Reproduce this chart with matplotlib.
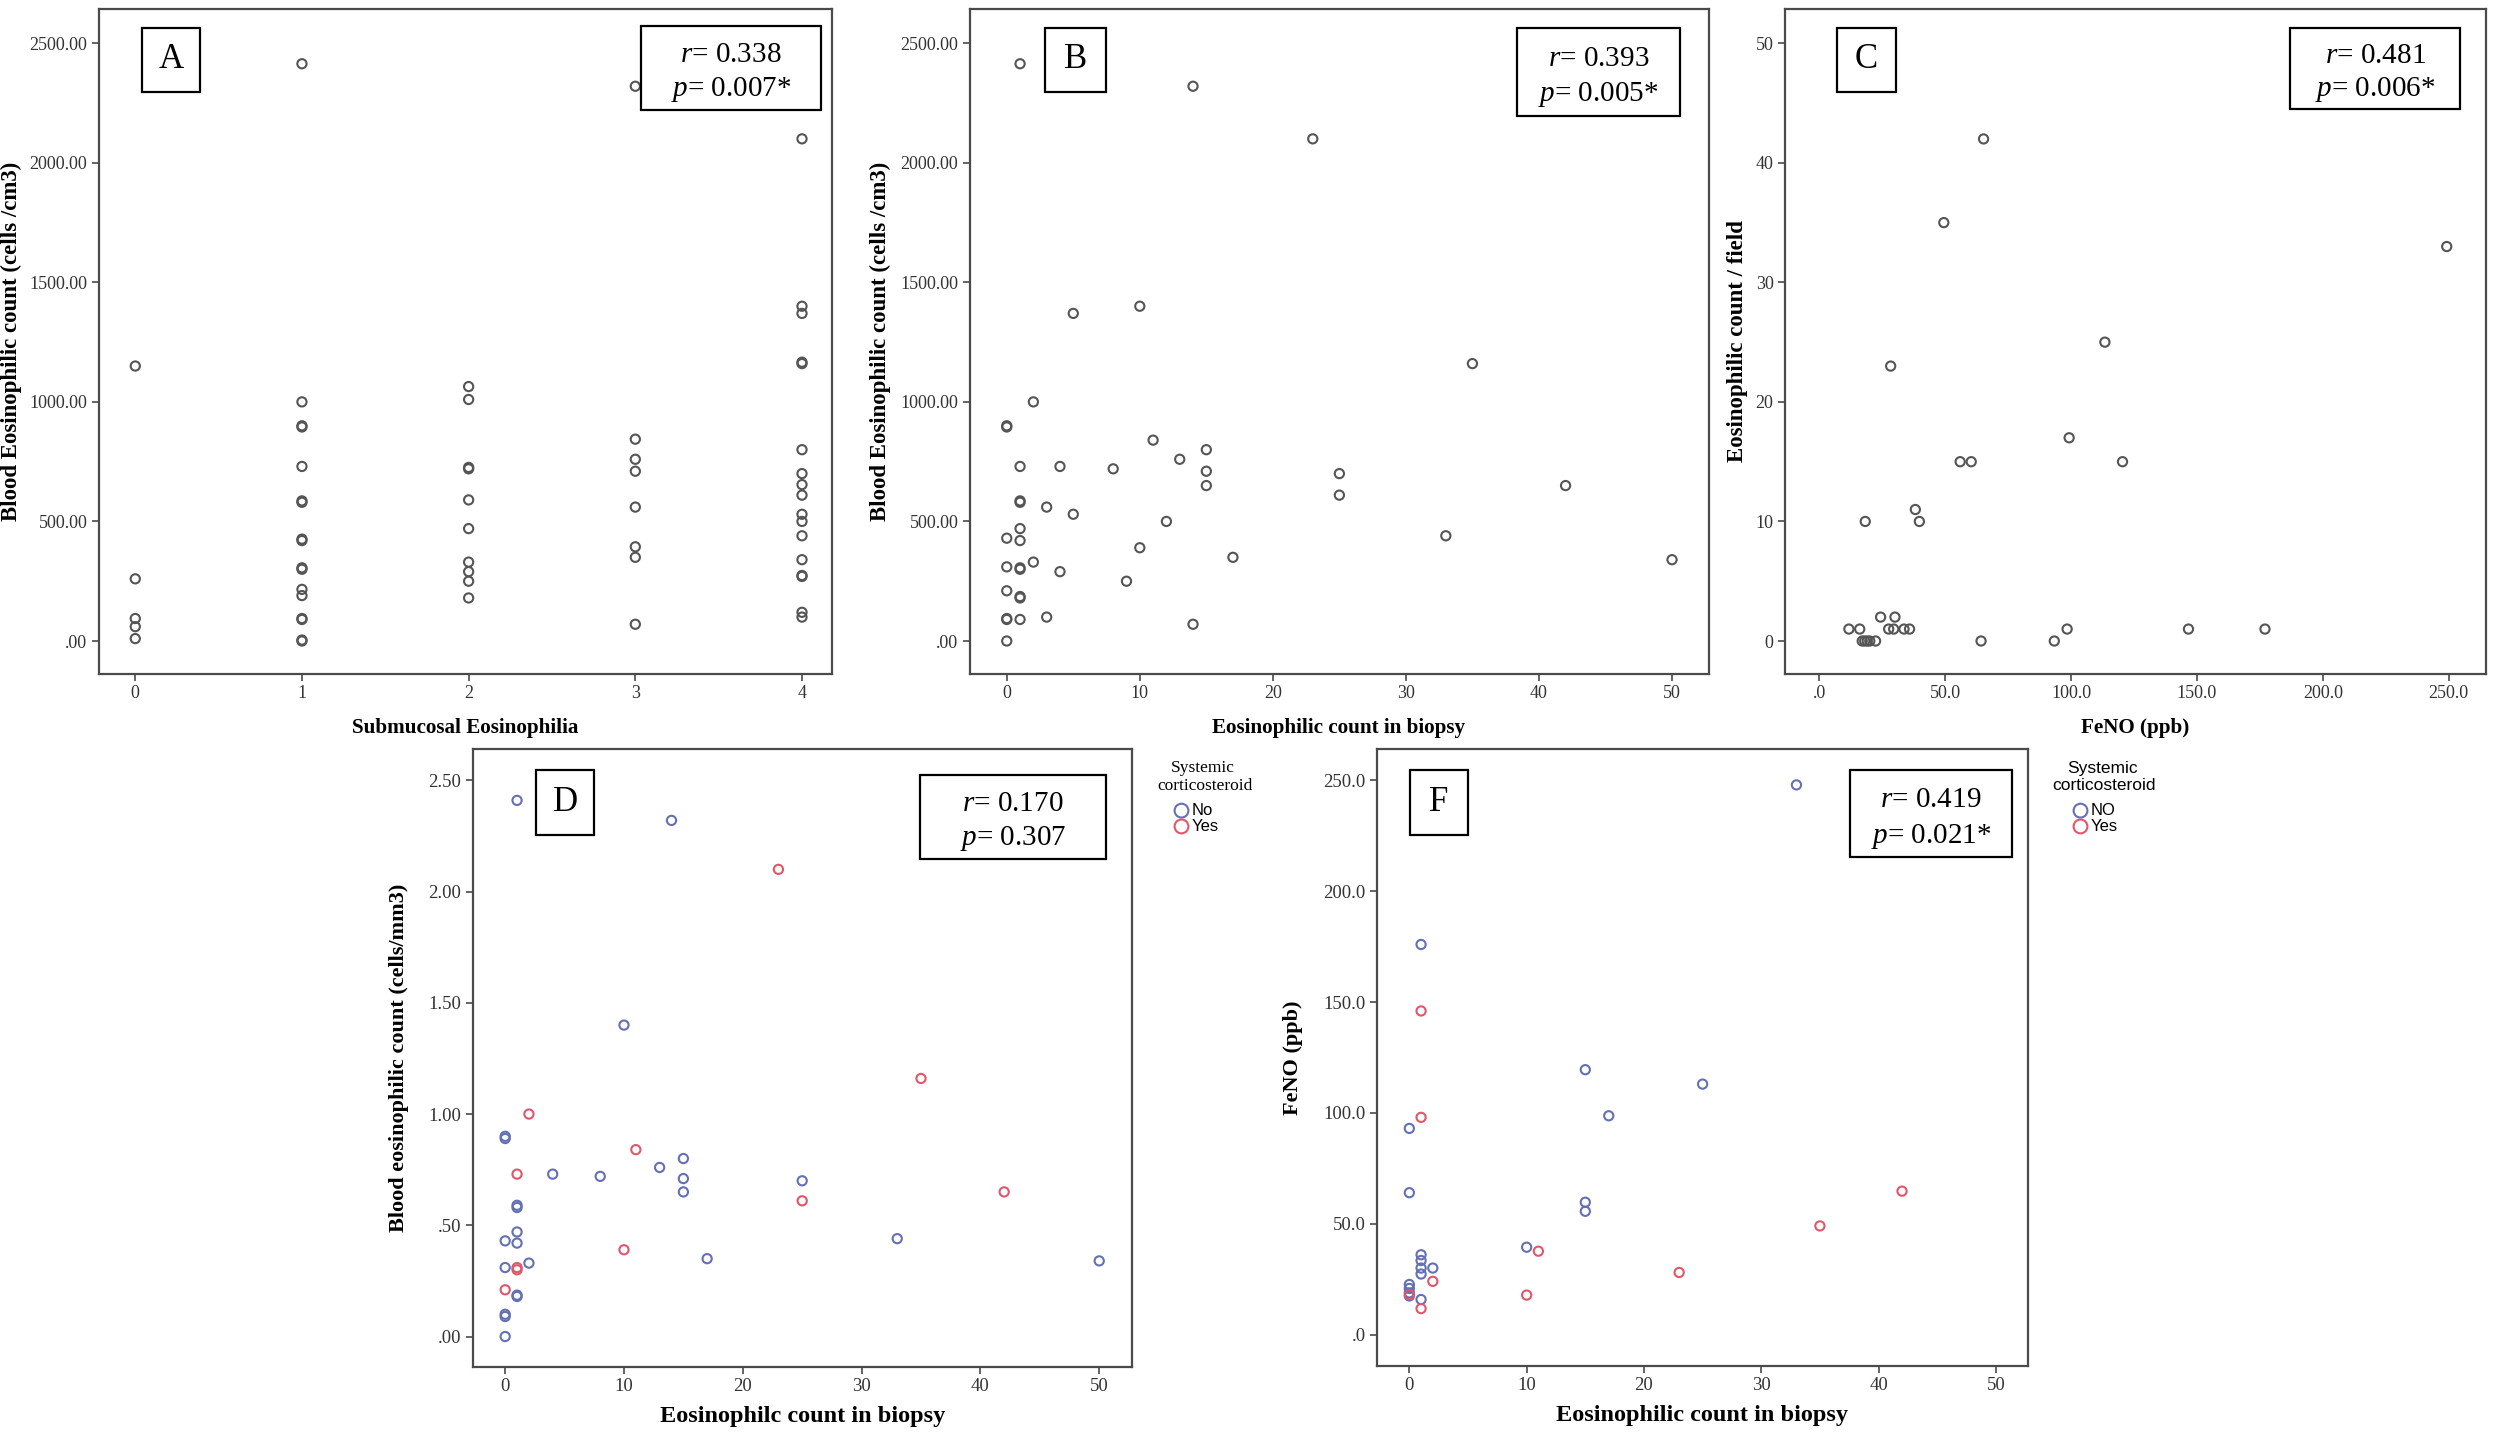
import matplotlib
matplotlib.use('Agg')
import matplotlib.pyplot as plt
from matplotlib.patches import Rectangle

# ---- data ----
# A: blood eosinophils (cells/cm3) per submucosal eosinophilia grade
grades = [0, 1, 2, 3, 4]
a_grade0 = [1150, 260, 94, 60, 10]
a_grade1 = [2414, 1000, 900, 895, 730, 586, 580, 426, 420, 306, 300, 216, 190, 94, 90, 4, 0]
a_grade2 = [1064, 1010, 726, 720, 590, 470, 330, 290, 250, 180]
a_grade3 = [2320, 844, 760, 710, 560, 394, 350, 70]
a_grade4 = [2100, 1400, 1370, 1166, 1160, 800, 700, 654, 610, 530, 500, 440, 340, 274, 270, 120, 100]

# B: biopsy eosinophil count vs blood eosinophils
b_biopsy = [1, 14, 23, 5, 10, 35, 2, 0, 0, 11, 13, 15, 15, 15, 1, 4, 8, 25, 25, 42,
            1, 1, 3, 5, 12, 0, 1, 1, 33, 10, 17, 50, 0, 1, 1, 2, 4, 9, 0, 1, 1,
            0, 0, 1, 3, 14, 0]
b_blood = [2414, 2320, 2100, 1370, 1400, 1160, 1000, 900, 895, 840, 760, 800, 710, 650, 730, 730, 720, 700, 610, 650,
           586, 580, 560, 530, 500, 430, 470, 420, 440, 390, 350, 340, 310, 306, 300, 330, 290, 250, 210, 186, 180,
           94, 90, 90, 100, 70, 0]

# C: FeNO vs eosinophil count / field
c_feno = [65.2, 49.4, 249.2, 113.4, 28.3, 99.2, 55.9, 60.3, 120.4, 38.1, 18.2, 39.7, 24.3, 30.0,
          11.7, 16.0, 27.5, 29.5, 33.6, 35.8, 98.4, 146.6, 177.0, 17.0, 18.0, 19.0, 20.0, 22.3, 64.2, 93.3]
c_eos = [42, 35, 33, 25, 23, 17, 15, 15, 15, 11, 10, 10, 2, 2,
         1, 1, 1, 1, 1, 1, 1, 1, 1, 0, 0, 0, 0, 0, 0, 0]

# D: biopsy count vs blood eosinophils (cells/mm3), split by systemic corticosteroid
d_no_biopsy = [1, 14, 10, 0, 0, 13, 15, 15, 15, 4, 8, 25, 1, 1, 0, 1, 1, 33, 17, 50, 0, 2, 1, 1, 0, 0, 0]
d_no_blood = [2.41, 2.32, 1.40, 0.90, 0.89, 0.76, 0.80, 0.71, 0.65, 0.73, 0.72, 0.70, 0.59, 0.58,
              0.43, 0.47, 0.42, 0.44, 0.35, 0.34, 0.31, 0.33, 0.186, 0.18, 0.10, 0.09, 0.0]
d_yes_biopsy = [23, 35, 2, 11, 1, 25, 42, 10, 1, 1, 0]
d_yes_blood = [2.10, 1.16, 1.00, 0.84, 0.73, 0.61, 0.65, 0.39, 0.31, 0.30, 0.21]

# F: biopsy count vs FeNO, split by systemic corticosteroid
f_no_biopsy = [33, 1, 15, 25, 17, 0, 0, 15, 15, 10, 1, 1, 1, 1, 2, 0, 0, 0, 0, 1]
f_no_feno = [248, 176, 119.5, 113, 98.7, 93, 64, 59.7, 55.6, 39.4, 36, 33.4, 30, 27.3, 30,
             22.6, 20.8, 18.8, 17.4, 15.8]
f_yes_biopsy = [1, 1, 42, 35, 11, 2, 23, 0, 10, 1]
f_yes_feno = [146, 98, 64.7, 49, 37.6, 24, 28, 18, 17.8, 11.7]

# tick labels (SPSS style)
blood_ticks = [0, 500, 1000, 1500, 2000, 2500]
blood_ticklabels = ['.00', '500.00', '1000.00', '1500.00', '2000.00', '2500.00']
biopsy_ticks = [0, 10, 20, 30, 40, 50]
feno_ticks = [0, 50, 100, 150, 200, 250]
feno_ticklabels = ['.0', '50.0', '100.0', '150.0', '200.0', '250.0']
field_ticks = [0, 10, 20, 30, 40, 50]
mm3_ticks = [0, 0.5, 1.0, 1.5, 2.0, 2.5]
mm3_ticklabels = ['.00', '.50', '1.00', '1.50', '2.00', '2.50']

stats = {'A': ('0.338', '0.007*'), 'B': ('0.393', '0.005*'), 'C': ('0.481', '0.006*'),
         'D': ('0.170', '0.307'), 'F': ('0.419', '0.021*')}

# ---- style ----
plt.rcParams['font.family'] = ['Liberation Serif', 'DejaVu Serif']
plt.rcParams['mathtext.fontset'] = 'custom'
plt.rcParams['mathtext.rm'] = 'Liberation Serif'
plt.rcParams['mathtext.it'] = 'Liberation Serif:italic'

W, H = 2500, 1433
GRAY = '#4a4a4a'
PT_GRAY = '#555555'
BLUE = '#6470b4'
RED = '#e2566a'

fig = plt.figure(figsize=(W / 100, H / 100), dpi=100)


def px_axes(l, t, r, b):
    return fig.add_axes([l / W, 1 - b / H, (r - l) / W, (b - t) / H])


def px_box(l, t, r, b, lw=1.6):
    fig.add_artist(Rectangle((l / W, 1 - b / H), (r - l) / W, (b - t) / H,
                             transform=fig.transFigure, fill=False, ec='black', lw=lw, zorder=5))


def letter_box(l, t, r, b, letter):
    px_box(l, t, r, b)
    fig.text((l + r) / 2 / W, 1 - (t + b) / 2 / H, letter, fontsize=25,
             ha='center', va='center', zorder=6)


def stat_box(l, t, r, b, key):
    px_box(l, t, r, b)
    rv, pv = stats[key]
    h = b - t
    fig.text((l + r) / 2 / W, 1 - (t + 0.35 * h) / H, '$r$= ' + rv, fontsize=21,
             ha='center', va='center', zorder=6)
    fig.text((l + r) / 2 / W, 1 - (t + 0.76 * h) / H, '$p$= ' + pv, fontsize=21,
             ha='center', va='center', zorder=6)


def style_ax(ax, tick_fs):
    for s in ax.spines.values():
        s.set_color(GRAY)
        s.set_linewidth(1.6)
    ax.tick_params(direction='out', length=5, width=1.2, color=GRAY,
                   labelsize=tick_fs, labelcolor='#333333', pad=3)


def scatter(ax, x, y, color):
    return ax.scatter(x, y, s=44, facecolors='none', edgecolors=color, linewidths=1.5, zorder=3)


# ---- A ----
axA = px_axes(98.6, 9, 832, 674)
for g, vals in zip(grades, [a_grade0, a_grade1, a_grade2, a_grade3, a_grade4]):
    scatter(axA, [g] * len(vals), vals, PT_GRAY)
axA.set_xlim(-0.22, 4.18)
axA.set_ylim(-138, 2643)
axA.set_xticks(grades)
axA.set_yticks(blood_ticks)
axA.set_yticklabels(blood_ticklabels)
style_ax(axA, 13)
axA.set_xlabel('Submucosal Eosinophilia', fontsize=15.2, fontweight='bold')
axA.set_ylabel('Blood Eosinophilic count (cells /cm3)', fontsize=16.5, fontweight='bold')
axA.xaxis.set_label_coords(0.5, -0.066)
axA.yaxis.set_label_coords(-0.105, 0.5)
letter_box(142, 28, 200, 92, 'A')
stat_box(641, 26, 821, 110, 'A')

# ---- B ----
axB = px_axes(969.5, 9, 1708.6, 674)
scatter(axB, b_biopsy, b_blood, PT_GRAY)
axB.set_xlim(-2.8, 52.75)
axB.set_ylim(-138, 2643)
axB.set_xticks(biopsy_ticks)
axB.set_yticks(blood_ticks)
axB.set_yticklabels(blood_ticklabels)
style_ax(axB, 13)
axB.set_xlabel('Eosinophilic count in biopsy', fontsize=15.2, fontweight='bold')
axB.set_ylabel('Blood Eosinophilic count (cells /cm3)', fontsize=16.5, fontweight='bold')
axB.xaxis.set_label_coords(0.5, -0.066)
axB.yaxis.set_label_coords(-0.106, 0.5)
letter_box(1045, 28, 1106, 92, 'B')
stat_box(1517, 28, 1680, 116, 'B')

# ---- C ----
axC = px_axes(1784.7, 9, 2486, 674)
scatter(axC, c_feno, c_eos, PT_GRAY)
axC.set_xlim(-13.8, 264.8)
axC.set_ylim(-2.76, 52.87)
axC.set_xticks(feno_ticks)
axC.set_xticklabels(feno_ticklabels)
axC.set_yticks(field_ticks)
style_ax(axC, 13)
axC.set_xlabel('FeNO (ppb)', fontsize=15.2, fontweight='bold')
axC.set_ylabel('Eosinophilic count / field', fontsize=16.5, fontweight='bold')
axC.xaxis.set_label_coords(0.5, -0.066)
axC.yaxis.set_label_coords(-0.052, 0.5)
letter_box(1837, 28, 1896, 92, 'C')
stat_box(2290, 28, 2460, 109, 'C')

# ---- D ----
axD = px_axes(472.5, 749, 1132, 1367)
hD_no = scatter(axD, d_no_biopsy, d_no_blood, BLUE)
hD_yes = scatter(axD, d_yes_biopsy, d_yes_blood, RED)
axD.set_xlim(-2.75, 52.76)
axD.set_ylim(-0.137, 2.641)
axD.set_xticks(biopsy_ticks)
axD.set_yticks(mm3_ticks)
axD.set_yticklabels(mm3_ticklabels)
style_ax(axD, 13.5)
axD.set_xlabel('Eosinophilc count in biopsy', fontsize=17.5, fontweight='bold')
axD.set_ylabel('Blood eosinophilic count (cells/mm3)', fontsize=16, fontweight='bold')
axD.xaxis.set_label_coords(0.5, -0.063)
axD.yaxis.set_label_coords(-0.096, 0.5)
letter_box(536, 770, 594, 835, 'D')
stat_box(920, 775, 1106, 859, 'D')
fig.text(1203 / W, 1 - 768 / H, 'Systemic', fontsize=12.5, ha='center', va='center')
fig.text(1205 / W, 1 - 786 / H, 'corticosteroid', fontsize=12.5, ha='center', va='center')
axD.legend([hD_no, hD_yes], ['No', 'Yes'], loc='upper left', frameon=False,
           bbox_to_anchor=(1174 / W, 1 - 803 / H), bbox_transform=fig.transFigure,
           borderpad=0, borderaxespad=0, handlelength=0.9, handletextpad=0.15,
           labelspacing=0.05, markerscale=1.5,
           prop={'family': 'Liberation Sans', 'size': 12})

# ---- F ----
axF = px_axes(1376.5, 749, 2028, 1366)
hF_no = scatter(axF, f_no_biopsy, f_no_feno, BLUE)
hF_yes = scatter(axF, f_yes_biopsy, f_yes_feno, RED)
axF.set_xlim(-2.8, 52.74)
axF.set_ylim(-14.2, 264.2)
axF.set_xticks(biopsy_ticks)
axF.set_yticks(feno_ticks)
axF.set_yticklabels(feno_ticklabels)
style_ax(axF, 13.5)
axF.set_xlabel('Eosinophilic count in biopsy', fontsize=17.5, fontweight='bold')
axF.set_ylabel('FeNO (ppb)', fontsize=16, fontweight='bold')
axF.xaxis.set_label_coords(0.5, -0.063)
axF.yaxis.set_label_coords(-0.113, 0.5)
letter_box(1410, 770, 1468, 835, 'F')
stat_box(1850, 770, 2012, 857, 'F')
fig.text(2102 / W, 1 - 768 / H, 'Systemic', fontsize=12.5, ha='center', va='center',
         family='Liberation Sans')
fig.text(2104 / W, 1 - 786 / H, 'corticosteroid', fontsize=12.5, ha='center', va='center',
         family='Liberation Sans')
axF.legend([hF_no, hF_yes], ['NO', 'Yes'], loc='upper left', frameon=False,
           bbox_to_anchor=(2073 / W, 1 - 803 / H), bbox_transform=fig.transFigure,
           borderpad=0, borderaxespad=0, handlelength=0.9, handletextpad=0.15,
           labelspacing=0.05, markerscale=1.5,
           prop={'family': 'Liberation Sans', 'size': 12})

fig.savefig('out.png', dpi=100, facecolor='white')
plt.close(fig)
